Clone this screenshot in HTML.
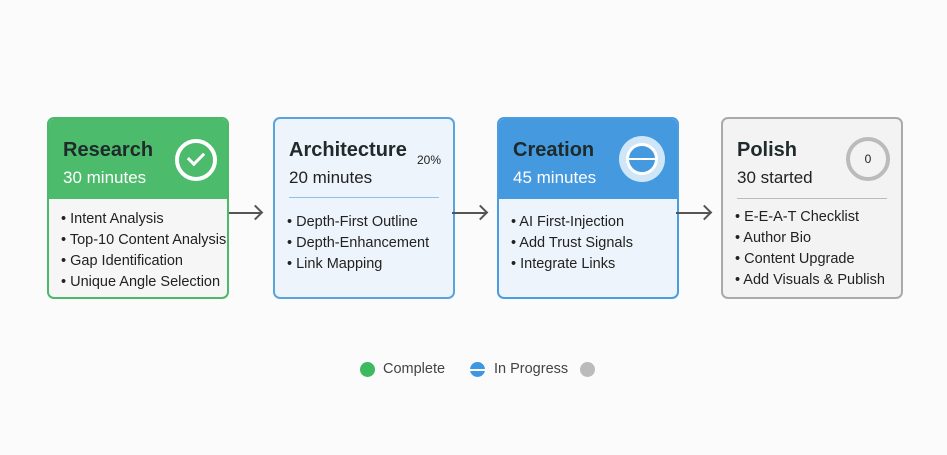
<!DOCTYPE html>
<html><head><meta charset="utf-8"><style>
*{margin:0;padding:0;box-sizing:border-box}
body{width:947px;height:455px;background:#fbfbfb;font-family:"Liberation Sans",sans-serif;position:relative;overflow:hidden;color:#222}
.card{position:absolute;top:117px;width:182px;height:182px;border-radius:7px;border:2px solid;overflow:hidden}
.hd{position:absolute;left:0;right:0;top:0;height:80px}
.t{position:absolute;left:14px;top:20px;font-size:20px;font-weight:bold;color:#1f2a2a}
.s{position:absolute;left:14px;top:49px;font-size:17px}
.ul{position:absolute;left:12px;font-size:14.5px;line-height:21px;color:#222}
.arr{position:absolute;top:212px;height:2px;background:#555}
.arr:after{content:"";position:absolute;right:0;top:-5px;width:9px;height:9px;border-top:2px solid #555;border-right:2px solid #555;transform:rotate(45deg);transform-origin:center;right:1px}
.lg{position:absolute;top:361px;font-size:14.5px;color:#444}
.dot{position:absolute;top:362px;width:15px;height:15px;border-radius:50%}
</style></head><body>

<div class="card" style="left:47px;border-color:#4cb86a;background:#f6f6f6">
 <div class="hd" style="background:#4cbb6b"></div>
 <div class="t">Research</div>
 <div class="s" style="color:#fff">30 minutes</div>
 <div style="position:absolute;left:126px;top:20px;width:42px;height:42px;border-radius:50%;border:4px solid #fff"></div>
 <div style="position:absolute;left:142px;top:30px;width:10px;height:16px;border-right:3px solid #fff;border-bottom:3px solid #fff;transform:rotate(45deg)"></div>
 <div class="ul" style="top:90px">• Intent Analysis<br>• Top-10 Content Analysis<br>• Gap Identification<br>• Unique Angle Selection</div>
</div>

<div class="card" style="left:273px;border-color:#5aa4de;background:#eef4fb">
 <div class="t">Architecture</div>
 <div style="position:absolute;left:142px;top:34px;font-size:12px">20%</div>
 <div class="s">20 minutes</div>
 <div style="position:absolute;left:14px;right:14px;top:78px;height:1px;background:#8ec2ea"></div>
 <div class="ul" style="top:93px">• Depth-First Outline<br>• Depth-Enhancement<br>• Link Mapping</div>
</div>

<div class="card" style="left:497px;border-color:#4a9de0;background:#eef4fb">
 <div class="hd" style="background:#4499df"></div>
 <div class="t">Creation</div>
 <div class="s" style="color:#fff">45 minutes</div>
 <div style="position:absolute;left:120px;top:17px;width:46px;height:46px;border-radius:50%;background:#cfe6f8"></div>
 <div style="position:absolute;left:127px;top:24px;width:32px;height:32px;border-radius:50%;background:#4499df;border:3px solid #fff"></div>
 <div style="position:absolute;left:129px;top:39px;width:28px;height:2px;background:#fff"></div>
 <div class="ul" style="top:93px">• AI First-Injection<br>• Add Trust Signals<br>• Integrate Links</div>
</div>

<div class="card" style="left:721px;border-color:#aaa;background:#f3f3f3">
 <div class="t">Polish</div>
 <div class="s">30 started</div>
 <div style="position:absolute;left:123px;top:18px;width:44px;height:44px;border-radius:50%;border:4px solid #bbb;text-align:center;line-height:36px;font-size:12px">0</div>
 <div style="position:absolute;left:14px;right:14px;top:79px;height:1px;background:#bbb"></div>
 <div class="ul" style="top:88px">• E-E-A-T Checklist<br>• Author Bio<br>• Content Upgrade<br>• Add Visuals &amp; Publish</div>
</div>

<div class="arr" style="left:229px;width:33px"></div>
<div class="arr" style="left:452px;width:35px"></div>
<div class="arr" style="left:676px;width:35px"></div>

<div class="dot" style="left:360px;background:#3dba60"></div>
<div class="lg" style="left:383px">Complete</div>
<div class="dot" style="left:470px;background:#3d97e3"></div>
<div style="position:absolute;left:470px;top:369px;width:15px;height:2px;background:#fff"></div>
<div class="lg" style="left:494px">In Progress</div>
<div class="dot" style="left:580px;background:#bbb"></div>
</body></html>
